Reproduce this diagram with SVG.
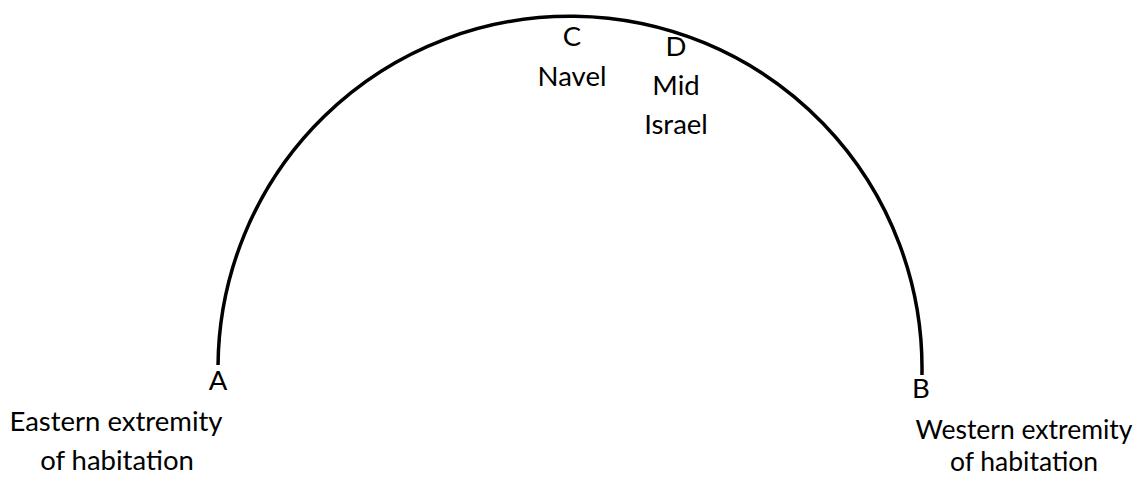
<svg xmlns="http://www.w3.org/2000/svg" width="1139" height="477" viewBox="0 0 1139 477">
<style>
.t{font-family:Lato,"Liberation Sans",sans-serif;font-size:27.5px;fill:#000;text-anchor:middle}
.r{font-size:26.5px}
.arc{fill:none;stroke:#000;stroke-width:3.5}
</style>
<rect width="1139" height="477" fill="#fff"/>
<g id="connectors">
<path class="arc" d="M218.04,365 A352,352 0 1 1 921.96,375"/>
</g>
<g id="nodeA"><text class="t" x="218" y="390">A</text></g>
<g id="nodeB"><text class="t" x="921" y="398">B</text></g>
<g id="nodeC"><text class="t" x="572" y="46">C</text><text class="t" x="572" y="86">Navel</text></g>
<g id="nodeD"><text class="t" x="676" y="56">D</text><text class="t" x="676" y="95">Mid</text><text class="t" x="676" y="134">Israel</text></g>
<g id="labelA"><text class="t" x="116" y="431">Eastern extremity</text><text class="t" x="117" y="470">of habitation</text></g>
<g id="labelB"><text class="t r" x="1024" y="439">Western extremity</text><text class="t r" x="1024" y="471">of habitation</text></g>
</svg>
